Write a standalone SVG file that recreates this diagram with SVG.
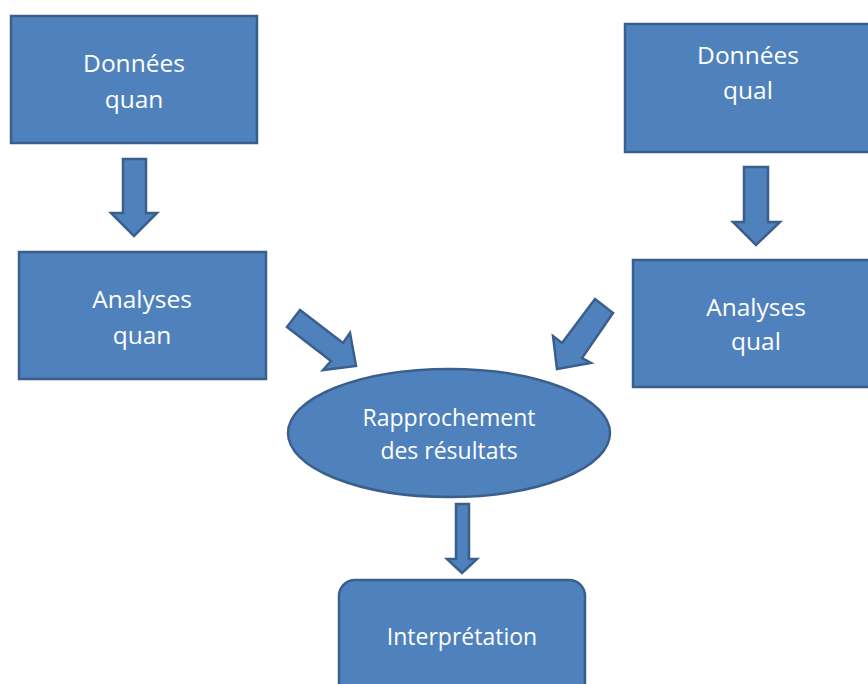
<svg xmlns="http://www.w3.org/2000/svg" width="868" height="684" viewBox="0 0 868 684">
<style>
.shape{fill:#4F81BD;stroke:#3A5F8C;stroke-width:2.5;stroke-linejoin:miter}
.t{font-family:"Open Sans","Liberation Sans",sans-serif;fill:#FFFFFF;text-anchor:middle}
.big{font-size:24.5px}
.mid{font-size:23px}
</style>
<rect width="868" height="684" fill="#FFFFFF"/>
<g id="donnees-quan">
<rect class="shape" x="11" y="16" width="246" height="127"/>
<text class="t big" x="134" y="72">Données</text>
<text class="t big" x="134" y="108">quan</text>
</g>
<g id="donnees-qual">
<rect class="shape" x="625" y="24" width="260" height="128"/>
<text class="t big" x="748" y="64">Données</text>
<text class="t big" x="748" y="99">qual</text>
</g>
<g id="analyses-quan">
<rect class="shape" x="19" y="252" width="247" height="127"/>
<text class="t big" x="142" y="308">Analyses</text>
<text class="t big" x="142" y="344">quan</text>
</g>
<g id="analyses-qual">
<rect class="shape" x="633" y="260" width="260" height="127"/>
<text class="t big" x="756" y="316">Analyses</text>
<text class="t big" x="756" y="350">qual</text>
</g>
<g id="rapprochement">
<ellipse class="shape" cx="449" cy="433" rx="161" ry="64"/>
<text class="t mid" x="449" y="426">Rapprochement</text>
<text class="t mid" x="449" y="459">des résultats</text>
</g>
<g id="interpretation">
<rect class="shape" x="339" y="580" width="246" height="130" rx="16" ry="16"/>
<text class="t mid" x="462" y="645">Interprétation</text>
</g>
<g id="connectors">
<polygon class="shape" points="123,159 146,159 146,213 157,213 134,236 111,213 123,213"/>
<polygon class="shape" points="744,167 768,167 768,222 780,222 756,245 733,222 744,222"/>
<polygon class="shape" points="300,310 343,343 350,333 356,366 323,370 331,361 287,327"/>
<polygon class="shape" points="595,299 613,313 582,358 591,363 557,369 553,336 562,343"/>
<polygon class="shape" points="456,504 469,504 469,559 477,559 462,573 447,559 456,559"/>
</g>
</svg>
